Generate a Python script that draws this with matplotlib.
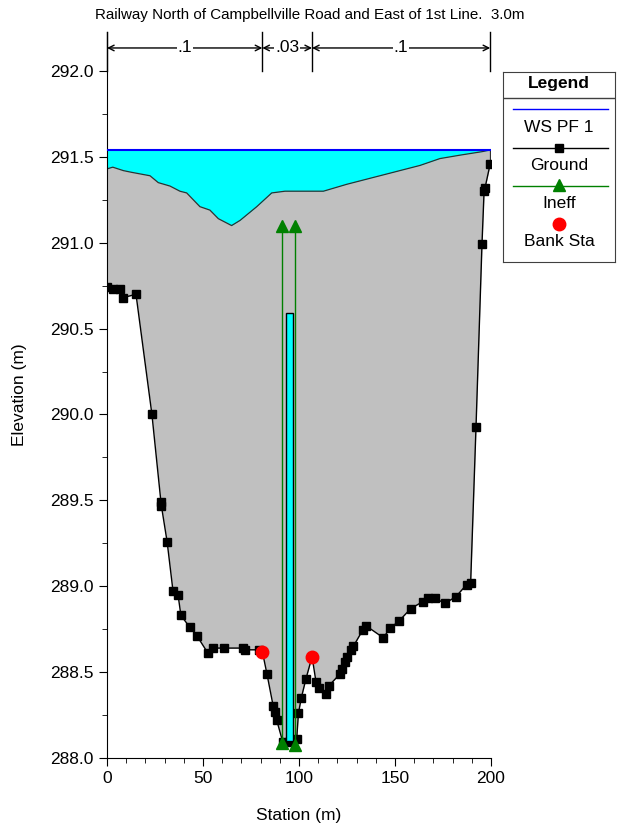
import numpy as np
import matplotlib
matplotlib.use("Agg")
import matplotlib.pyplot as plt
from matplotlib.patches import Rectangle
from matplotlib.ticker import MultipleLocator

plt.rcParams['font.family'] = ['Liberation Sans', 'DejaVu Sans']

# ground points (station, elevation)
gx = [0.0, 3.0, 6.8, 8.3, 15.1, 23.4, 28.1, 28.3, 31.3, 34.4, 37.0, 38.5, 43.2, 46.9,
      52.6, 55.2, 61.0, 70.8, 71.8, 79.0, 80.9, 83.3, 86.6, 87.3, 88.4, 91.5, 94.6,
      98.8, 99.7, 101.2, 103.6, 106.8, 108.9, 110.3, 114.1, 115.5, 121.4, 122.6, 124.0,
      124.8, 126.9, 128.3, 133.2, 134.9, 143.9, 147.4, 152.3, 158.2, 164.4, 167.4,
      170.8, 176.0, 181.8, 187.3, 189.4, 192.2, 195.3, 196.4, 196.9, 199.6]
gy = [290.74, 290.73, 290.73, 290.68, 290.70, 290.00, 289.49, 289.47, 289.26, 288.97,
      288.95, 288.83, 288.76, 288.71, 288.61, 288.64, 288.64, 288.64, 288.63, 288.63,
      288.62, 288.49, 288.30, 288.27, 288.22, 288.095, 288.095, 288.11, 288.26, 288.35,
      288.46, 288.59, 288.44, 288.41, 288.37, 288.42, 288.49, 288.52, 288.56, 288.59,
      288.63, 288.65, 288.745, 288.77, 288.70, 288.755, 288.80, 288.87, 288.91, 288.93,
      288.93, 288.90, 288.94, 289.01, 289.02, 289.93, 290.99, 291.30, 291.32, 291.46]

# top of roadway / embankment
lid_x = [0.0, 3.0, 8.5, 12.8, 22.4, 26.7, 32.8, 38.0, 41.5, 48.4, 53.6, 58.0, 64.9,
         69.3, 78.0, 85.8, 92.7, 112.7, 124.8, 135.2, 149.1, 163.0, 173.4, 183.9,
         195.2, 199.6]
lid_y = [291.43, 291.44, 291.42, 291.41, 291.39, 291.35, 291.33, 291.30, 291.29,
         291.21, 291.19, 291.14, 291.10, 291.13, 291.21, 291.29, 291.30, 291.30,
         291.34, 291.37, 291.41, 291.45, 291.49, 291.51, 291.53, 291.54]

ws_elev = 291.54
bank_x = [80.9, 106.8]
bank_y = [288.62, 288.59]
ineff_x = [91.0, 97.7]
ineff_bot = [288.09, 288.075]
ineff_top = [291.10, 291.10]
culv_left, culv_right = 93.3, 96.7
culv_bot, culv_top = 288.10, 290.59

n_bounds = [0.0, 80.9, 106.8, 199.6]
n_vals = ['.1', '.03', '.1']

fig = plt.figure(figsize=(6.21, 8.30), dpi=100)
ax = fig.add_axes([107/621, 72/830, 384/621, 726/830])

# fill embankment and water above it
xs = np.union1d(gx, lid_x)
g_i = np.interp(xs, gx, gy)
l_i = np.interp(xs, lid_x, lid_y)
ax.fill_between(xs, g_i, l_i, where=l_i >= g_i, color='#c0c0c0', lw=0, zorder=1)
ax.fill_between(lid_x, lid_y, ws_elev, color='#00ffff', lw=0, zorder=1)
ax.plot(lid_x, lid_y, color='#303030', lw=0.9, zorder=2)
ax.plot([0, lid_x[-1]], [ws_elev, ws_elev], color='#0000ff', lw=1.5, zorder=3)
ax.plot([lid_x[-1], lid_x[-1]], [gy[-1], lid_y[-1]], color='#303030', lw=0.9, zorder=2)

ax.plot(gx, gy, color='black', lw=1, marker='s', ms=5.5, zorder=4)

ax.add_patch(Rectangle((culv_left, culv_bot), culv_right - culv_left, culv_top - culv_bot,
                       facecolor='#00ffff', edgecolor='black', lw=1, zorder=5))

for x, b, t in zip(ineff_x, ineff_bot, ineff_top):
    ax.plot([x, x], [b, t], color='#008000', lw=1, zorder=6)
    ax.plot([x, x], [b, t], ls='none', marker='^', color='#008000', ms=9, zorder=7)

ax.plot(bank_x, bank_y, ls='none', marker='o', color='#ff0000', ms=9, zorder=8)

# n-value bars
for x in n_bounds:
    ax.plot([x, x], [292.0, 292.227], color='black', lw=1, clip_on=False)
for i, lab in enumerate(n_vals):
    x0, x1 = n_bounds[i], n_bounds[i + 1]
    ax.annotate('', xy=(x0, 292.134), xytext=(x1, 292.134),
                arrowprops=dict(arrowstyle='<->', color='black', lw=1,
                                shrinkA=0, shrinkB=0), annotation_clip=False)
    ax.text((x0 + x1) / 2, 292.134, lab, ha='center', va='center', fontsize=12.5,
            bbox=dict(facecolor='white', edgecolor='none', pad=0.5))

ax.set_xlim(0, 200)
ax.set_ylim(288.0, 292.227)
ax.spines['top'].set_visible(False)
ax.spines['right'].set_visible(False)
ax.xaxis.set_major_locator(MultipleLocator(50))
ax.xaxis.set_minor_locator(MultipleLocator(10))
ax.set_yticks(np.arange(288.0, 292.01, 0.5))
ax.yaxis.set_minor_locator(MultipleLocator(0.25))
ax.yaxis.set_major_formatter(plt.FormatStrFormatter('%.1f'))
ax.tick_params(which='major', length=6, labelsize=12.5, direction='out')
ax.tick_params(which='minor', length=3.5, direction='out')
ax.set_xlabel('Station (m)', fontsize=12.5, labelpad=16)
ax.set_ylabel('Elevation (m)', fontsize=12.5, labelpad=16.5)

fig.text(310/621, 1 - 15/830, 'Railway North of Campbellville Road and East of 1st Line.  3.0m',
         ha='center', va='center', fontsize=10.9)

# legend box
lg = fig.add_axes([503/621, (830 - 262)/830, 112/621, 190/830])
lg.set_xlim(0, 112)
lg.set_ylim(190, 0)
lg.set_xticks([])
lg.set_yticks([])
for s in lg.spines.values():
    s.set_color('#404040')
lg.text(56, 11.5, 'Legend', ha='center', va='center', fontsize=12.5, fontweight='bold')
lg.plot([0, 112], [26, 26], color='#404040', lw=1)
lg.plot([10, 105], [37.5, 37.5], color='#0000ff', lw=1)
lg.text(56, 55, 'WS PF 1', ha='center', va='center', fontsize=12.5)
lg.plot([10, 105], [76, 76], color='black', lw=1)
lg.plot([56], [76], marker='s', color='black', ms=5.5)
lg.text(56, 93.5, 'Ground', ha='center', va='center', fontsize=12.5)
lg.plot([10, 105], [114, 114], color='#008000', lw=1)
lg.plot([56], [113], marker='^', color='#008000', ms=9)
lg.text(56, 131.5, 'Ineff', ha='center', va='center', fontsize=12.5)
lg.plot([56], [152], marker='o', color='#ff0000', ms=9)
lg.text(56, 170, 'Bank Sta', ha='center', va='center', fontsize=12.5)

fig.savefig('out.png', dpi=100)
